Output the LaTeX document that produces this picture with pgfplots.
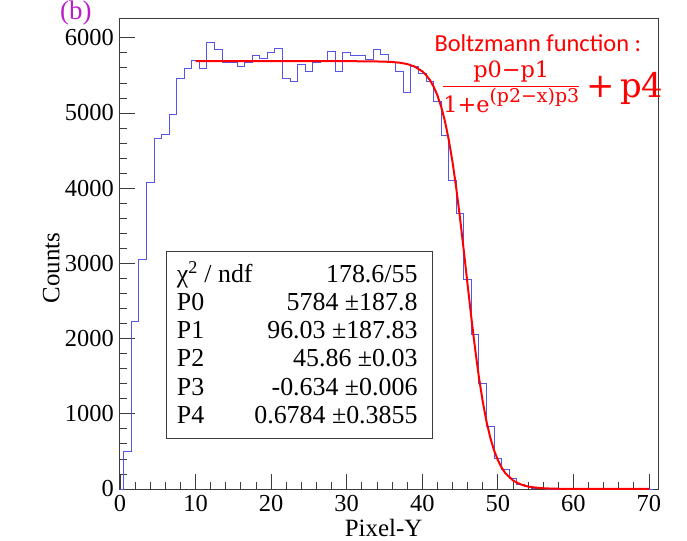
\documentclass[border=0pt]{standalone}
\usepackage{fontspec}
\setmainfont{Liberation Serif}
\newfontfamily\calib{Carlito}
\newfontfamily\formf{DejaVu Serif}
\usepackage{pgfplots}
\usepackage{pgfplotstable}
\pgfplotsset{compat=1.18}
\definecolor{histblue}{RGB}{85,85,230}
\definecolor{fitred}{RGB}{255,0,0}
\definecolor{tagmag}{RGB}{185,30,205}
\definecolor{framegray}{RGB}{60,60,60}

% histogram: left bin edge, content (bins centred on integers)
\pgfplotstableread{
x y
0 0
0.5 505
1.5 2226
2.5 3050
3.5 4075
4.5 4665
5.5 4718
6.5 4985
7.5 5463
8.5 5587
9.5 5698
10.5 5587
11.5 5938
12.5 5850
13.5 5676
14.5 5676
15.5 5618
16.5 5676
17.5 5760
18.5 5720
19.5 5809
20.5 5857
21.5 5463
22.5 5418
23.5 5640
24.5 5551
25.5 5676
26.5 5685
27.5 5818
28.5 5552
29.5 5805
30.5 5760
31.5 5760
32.5 5707
33.5 5840
34.5 5783
35.5 5671
36.5 5552
37.5 5272
38.5 5618
39.5 5530
40.5 5420
41.5 5150
42.5 4700
43.5 4100
44.5 3667
45.5 2790
46.5 2058
47.5 1397
48.5 829
49.5 408
50.5 253
51.5 133
52.5 60
53.5 28
54.5 12
55.5 5
56.5 0
70.5 0
}\histtab

% fitted Boltzmann curve, tabulated
\pgfplotstableread{
x y
10 5689
20 5689
30 5689
33 5687
35 5683
36 5678
37 5669
38 5651
39 5617
40 5554
40.5 5505
41 5440
41.5 5352
42 5236
42.5 5085
43 4892
43.5 4648
44 4352
44.5 4000
45 3602
45.5 3168
46 2719
46.5 2276
47 1860
47.5 1486
48 1165
48.5 899
49 684
49.5 515
50 385
50.5 286
51 211
52 114
53 62
54 33
55 18
56 10
57 5.6
58 3.3
60 1.4
65 0.7
70 0.7
}\fittab

\begin{document}
\begin{tikzpicture}
\useasboundingbox (-120bp,-52bp) rectangle (567bp,489bp);
\begin{axis}[at={(0,0)},anchor=south west,scale only axis,
  width=538bp,height=470bp,
  xmin=0,xmax=71.2,ymin=0,ymax=6250,
  xtick={0,10,...,70},ytick={0,1000,...,6000},
  minor x tick num=4,minor y tick num=4,
  tick pos=left,tick align=inside,
  major tick length=15bp,minor tick length=7.5bp,
  every tick/.style={framegray,line width=0.8bp},
  axis line style={framegray,line width=1bp},
  scaled y ticks=false,
  /pgf/number format/assume math mode=true,
  /pgf/number format/1000 sep={},
  tick label style={font=\fontsize{24.5}{28}\selectfont},
  yticklabel style={inner sep=3bp,xshift=-3bp},
  xticklabel style={inner sep=3bp,yshift=-3bp},
  xlabel={Pixel-Y},ylabel={Counts},
  label style={font=\fontsize{25}{28}\selectfont},
  xlabel style={at={(axis description cs:0.49,-0.1)},anchor=base,inner sep=0pt},
  ylabel style={at={(axis description cs:-0.128,0.47)},anchor=center},
  clip=false]
\addplot[histblue,line width=1bp,const plot mark left] table {\histtab};
\addplot[fitred,line width=2bp] table {\fittab};

\draw[framegray,line width=1bp] (axis cs:6.18,678) rectangle (axis cs:41.3,3153);
\begin{scope}[every node/.style={font=\fontsize{26}{30}\selectfont,inner sep=0pt}]
\node[anchor=base west] at (axis cs:7.5,2740) {χ\textsuperscript{2} / ndf};
\node[anchor=base west] at (axis cs:7.5,2368) {P0};
\node[anchor=base west] at (axis cs:7.5,1995) {P1};
\node[anchor=base west] at (axis cs:7.5,1623) {P2};
\node[anchor=base west] at (axis cs:7.5,1250) {P3};
\node[anchor=base west] at (axis cs:7.5,865) {P4};
\node[anchor=base east] at (axis cs:39.4,2740) {178.6/55};
\node[anchor=base east] at (axis cs:39.4,2368) {5784 ±187.8};
\node[anchor=base east] at (axis cs:39.4,1995) {96.03 ±187.83};
\node[anchor=base east] at (axis cs:39.4,1623) {45.86 ±0.03};
\node[anchor=base east] at (axis cs:39.4,1250) {-0.634 ±0.006};
\node[anchor=base east] at (axis cs:39.4,865) {0.6784 ±0.3855};
\end{scope}

\node[text=fitred,anchor=base,inner sep=0pt,font=\calib\fontsize{24.5}{28}\selectfont]
  at (axis cs:55.3,5813) {Boltzmann function :};
\node[text=fitred,anchor=base west,inner sep=0pt] at (axis cs:42.6,5202)
  {\raisebox{6bp}{\formf\fontsize{22.5}{26}\selectfont
   $\displaystyle\frac{\mbox{p0−p1}}{\mbox{1+e\raisebox{0.45em}{\fontsize{19}{22}\selectfont(p2−x)p3}}}$}%
   {\formf\fontsize{34}{38}\selectfont\,+\,p4}};
\end{axis}
\node[text=tagmag,anchor=base west,inner sep=0pt,font=\fontsize{27}{32}\selectfont]
  at (-60bp,469bp) {(b)};
\end{tikzpicture}
\end{document}
